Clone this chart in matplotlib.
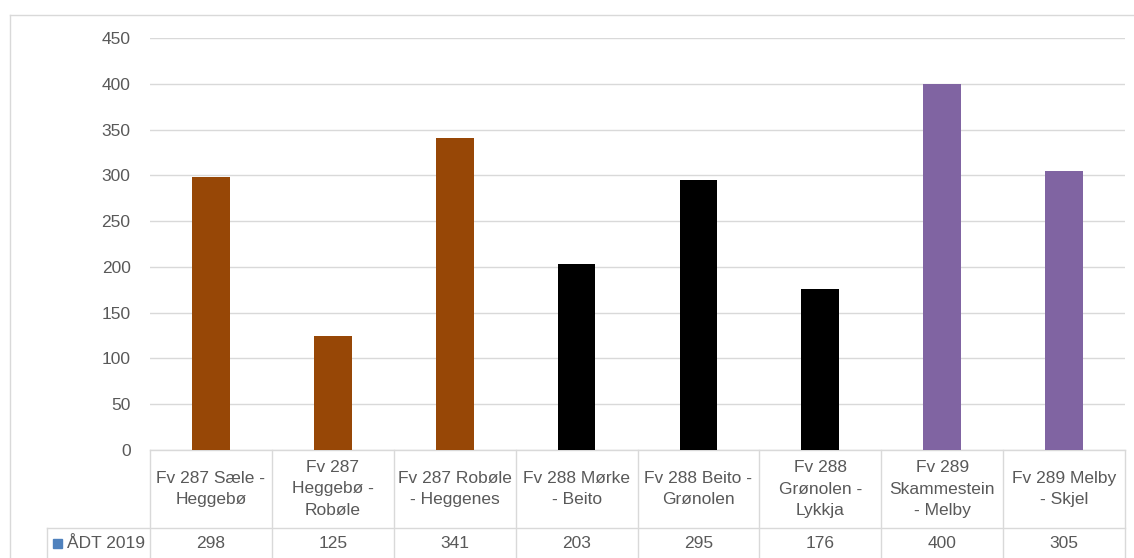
import matplotlib.pyplot as plt
import matplotlib.transforms as mtransforms
from matplotlib.patches import Rectangle

# ================= DATA =================
categories = [
    "Fv 287 Sæle -\nHeggebø",
    "Fv 287\nHeggebø -\nRobøle",
    "Fv 287 Robøle\n- Heggenes",
    "Fv 288 Mørke\n- Beito",
    "Fv 288 Beito -\nGrønolen",
    "Fv 288\nGrønolen -\nLykkja",
    "Fv 289\nSkammestein\n- Melby",
    "Fv 289 Melby\n- Skjel",
]
adt_2019 = [298, 125, 341, 203, 295, 176, 400, 305]
series_name = "ÅDT 2019"
yticks = [0, 50, 100, 150, 200, 250, 300, 350, 400, 450]

# ================= STYLE =================
brown = "#974706"
black = "#000000"
purple = "#8064A2"
bar_colors = [brown, brown, brown, black, black, black, purple, purple]
grid_col = "#D9D9D9"
text_col = "#595959"
legend_col = "#4F81BD"

plt.rcParams.update({'font.family': 'Liberation Sans', 'font.size': 12})

W, H = 1134, 558
fig = plt.figure(figsize=(W / 100, H / 100), dpi=100)
fig.patch.set_facecolor("white")

# plot area in pixels
left_px, right_px, top_px, bottom_px = 150, 1125, 38, 450
ax = fig.add_axes([left_px / W, (H - bottom_px) / H,
                   (right_px - left_px) / W, (bottom_px - top_px) / H])

x = list(range(len(categories)))
ax.bar(x, adt_2019, width=0.31, color=bar_colors, zorder=3)

ax.set_xlim(-0.5, len(categories) - 0.5)
ax.set_ylim(0, 450)
ax.set_yticks(yticks)
ax.yaxis.grid(True, color=grid_col, linewidth=1)
ax.set_axisbelow(True)
ax.tick_params(axis='y', length=0, pad=14, labelsize=12.5, labelcolor=text_col)
ax.tick_params(axis='x', length=0, labelbottom=False)
for s in ax.spines.values():
    s.set_visible(False)

# ================= DATA TABLE =================
plot_h = bottom_px - top_px
row1 = -(528 - bottom_px) / plot_h   # bottom of category row
row2 = -(570 - bottom_px) / plot_h   # below the figure edge
val_y = -((528 + 558) / 2 - bottom_px) / plot_h
leftmost = (47 - left_px) / (right_px - left_px)

trans = mtransforms.blended_transform_factory(ax.transData, ax.transAxes)
line_kw = dict(color=grid_col, linewidth=1, clip_on=False)

# horizontal lines
ax.plot([-0.5, len(categories) - 0.5], [0, 0], transform=trans, **line_kw)
ax.plot([leftmost, 1], [row1, row1], transform=ax.transAxes, **line_kw)
# vertical lines
for i in range(len(categories) + 1):
    ax.plot([i - 0.5, i - 0.5], [0, row2], transform=trans, **line_kw)
ax.plot([leftmost, leftmost], [row1, row2], transform=ax.transAxes, **line_kw)

for xi, cat, val in zip(x, categories, adt_2019):
    ax.text(xi, row1 / 2, cat, transform=trans, ha='center', va='center',
            fontsize=12.5, color=text_col, linespacing=1.55)
    ax.text(xi, val_y, str(val), transform=trans, ha='center', va='center',
            fontsize=12.5, color=text_col)

# legend key for the table row
ax.add_patch(Rectangle(((53 - left_px) / (right_px - left_px), val_y - 4.5 / plot_h),
                       9 / (right_px - left_px), 9 / plot_h,
                       transform=ax.transAxes, color=legend_col, clip_on=False))
ax.text((67 - left_px) / (right_px - left_px), val_y, series_name,
        transform=ax.transAxes, ha='left', va='center', fontsize=12.5, color=text_col)

# outer chart frame
fig.add_artist(plt.Line2D([10 / W, 10 / W], [0, 1 - 15 / H], color=grid_col, linewidth=1))
fig.add_artist(plt.Line2D([10 / W, 1], [1 - 15 / H, 1 - 15 / H], color=grid_col, linewidth=1))

fig.savefig("out.png", dpi=100, facecolor="white")
